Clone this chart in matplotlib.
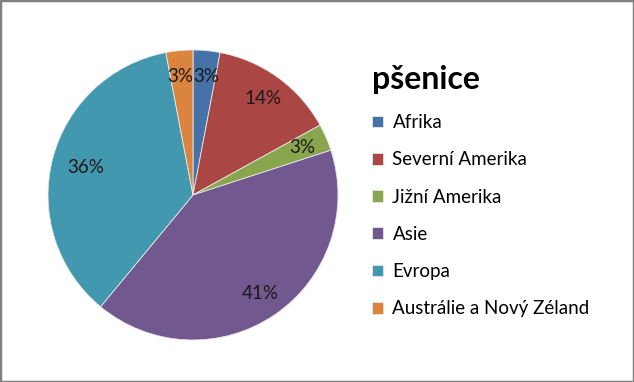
import matplotlib

matplotlib.use("Agg")
import matplotlib.pyplot as plt
from matplotlib.patches import Rectangle

regions = ["Afrika", "Severní Amerika", "Jižní Amerika", "Asie", "Evropa",
           "Austrálie a Nový Zéland"]
shares = [3, 14, 3, 41, 36, 3]
colors = ["#4572A7", "#AA4643", "#89A54E", "#71588F", "#4198AF", "#DB843D"]
title = "pšenice"

plt.rcParams["font.family"] = ["Lato", "DejaVu Sans"]

fig = plt.figure(figsize=(6.34, 3.82), dpi=100)
fig.patches.append(Rectangle((0, 0), 1, 1, transform=fig.transFigure,
                             fill=False, edgecolor="#808080", linewidth=2.5))

# pie area in pixels: centre ~(193,195), radius ~145
ax = fig.add_axes([(193 - 145) / 634, (382 - 195 - 145) / 382, 290 / 634, 290 / 382])
wedges, texts, autotexts = ax.pie(
    shares, colors=colors, startangle=90, counterclock=False,
    autopct="%1.0f%%", pctdistance=0.82,
    wedgeprops=dict(edgecolor="#e8e8e8", linewidth=0.6),
    textprops=dict(fontsize=13.5, color="#1a1a1a"))
ax.set_xlim(-1, 1)
ax.set_ylim(-1, 1)
ax.set_aspect("equal")

# the two small top labels sit side by side, split at the top of the pie
x, y = autotexts[0].get_position()
autotexts[0].set_position((0.0, y))
autotexts[0].set_ha("left")
x, y = autotexts[-1].get_position()
autotexts[-1].set_position((0.0, y))
autotexts[-1].set_ha("right")
# Evropa label sits a bit further in
x, y = autotexts[4].get_position()
autotexts[4].set_position((x * 0.93, y * 0.93))

leg = fig.legend(wedges, regions, loc="upper left",
                 bbox_to_anchor=(355 / 634, 1 - 48 / 382),
                 frameon=False, fontsize=13.5, title=title,
                 title_fontproperties=dict(size=23, weight="bold"),
                 alignment="left", handlelength=0.6, handleheight=0.6,
                 handletextpad=0.5, labelspacing=1.08)

fig.savefig("out.png", dpi=100)
